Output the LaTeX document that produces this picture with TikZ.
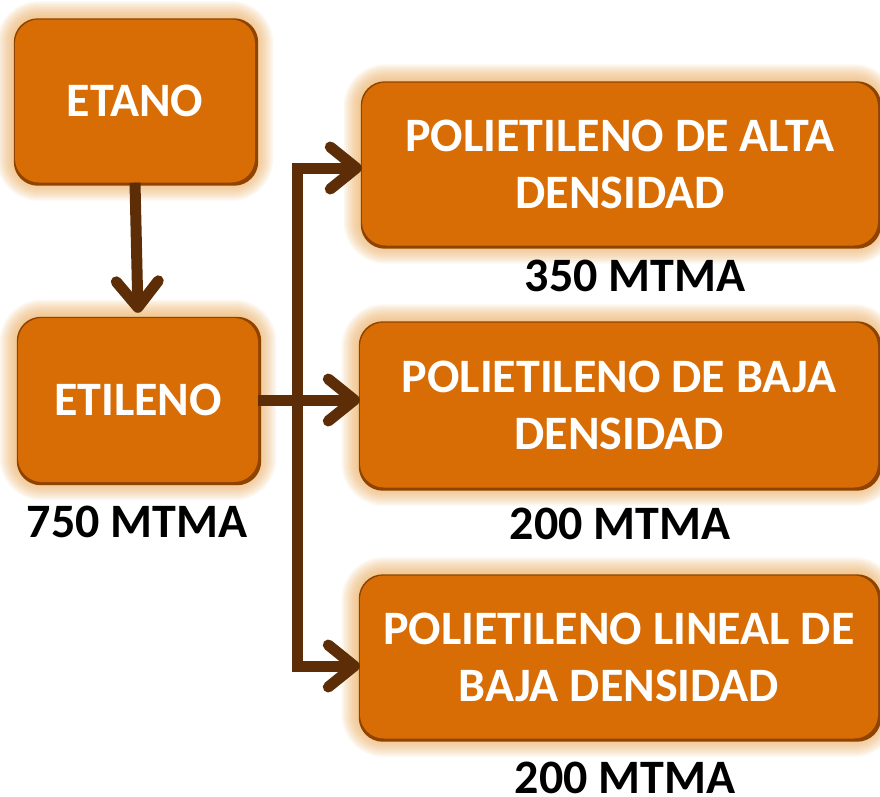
\documentclass[tikz,border=0pt]{standalone}
\usepackage{fontspec}
\setmainfont{Carlito}
\usetikzlibrary{arrows.meta,backgrounds}

\definecolor{naranja}{HTML}{D96D05}
\definecolor{borde}{HTML}{8F4300}
\definecolor{brillo}{HTML}{E9A95A}
\definecolor{cafe}{HTML}{5C2D06}

\tikzset{
  caja/.style={rectangle, rounded corners=24pt, fill=naranja, text=white,
    align=center, inner sep=0pt, font=\fontsize{48}{57}\selectfont\bfseries},
  dato/.style={font=\fontsize{48}{57}\selectfont\bfseries, text=black},
  linea/.style={draw=cafe, line width=11pt},
  flecha/.style={linea, -{Straight Barb[length=26pt,width=42pt,round]}}
}

\begin{document}
\begin{tikzpicture}[x=1pt,y=-1pt]
\useasboundingbox (0,0) rectangle (880,796);
% cajas
\node[caja, minimum width=240pt, minimum height=163pt] (etano) at (135,101) {ETANO};
\node[caja, minimum width=240pt, minimum height=164pt] (etileno) at (138,400) {ETILENO};
\node[caja, minimum width=516pt, minimum height=163pt] (pead) at (620,164) {POLIETILENO DE ALTA\\DENSIDAD};
\node[caja, minimum width=518pt, minimum height=165pt] (pebd) at (619,405) {POLIETILENO DE BAJA\\DENSIDAD};
\node[caja, minimum width=518pt, minimum height=163pt] (pelbd) at (619,657) {POLIETILENO LINEAL DE\\BAJA DENSIDAD};
% capacidades
\node[dato] (c-etileno) at (137,522) {750 MTMA};
\node[dato] (c-pead) at (635,276) {350 MTMA};
\node[dato] (c-pebd) at (620,524) {200 MTMA};
\node[dato] (c-pelbd) at (625,778) {200 MTMA};
% brillo y borde de las cajas
\begin{scope}[on background layer]
\foreach \c in {etano,etileno,pead,pebd,pelbd}{
  \foreach \g in {2,4,...,18}
    \fill[brillo, opacity=0.11, rounded corners=24pt+\g pt]
      ([xshift=-\g pt, yshift=-\g pt]\c.south west) rectangle ([xshift=\g pt, yshift=\g pt]\c.north east);
  \fill[borde, rounded corners=24pt]
    ([xshift=-1pt, yshift=-3pt]\c.south west) rectangle ([xshift=3pt, yshift=1pt]\c.north east);
}
\end{scope}
% conectores
\coordinate (tronco-arriba) at (297,163);
\coordinate (tronco-abajo) at (297,672);
\coordinate (rama-arriba) at (292,168);
\coordinate (rama-abajo) at (292,666);
\draw[flecha] (etano.south) -- ([yshift=5pt]etileno.north);
\draw[linea] (tronco-arriba) -- (tronco-abajo);
\draw[flecha] (rama-arriba) -- (rama-arriba -| pead.west);
\draw[flecha] (etileno.east) -- (etileno.east -| pebd.west);
\draw[flecha] (rama-abajo) -- (rama-abajo -| pelbd.west);
\end{tikzpicture}
\end{document}
